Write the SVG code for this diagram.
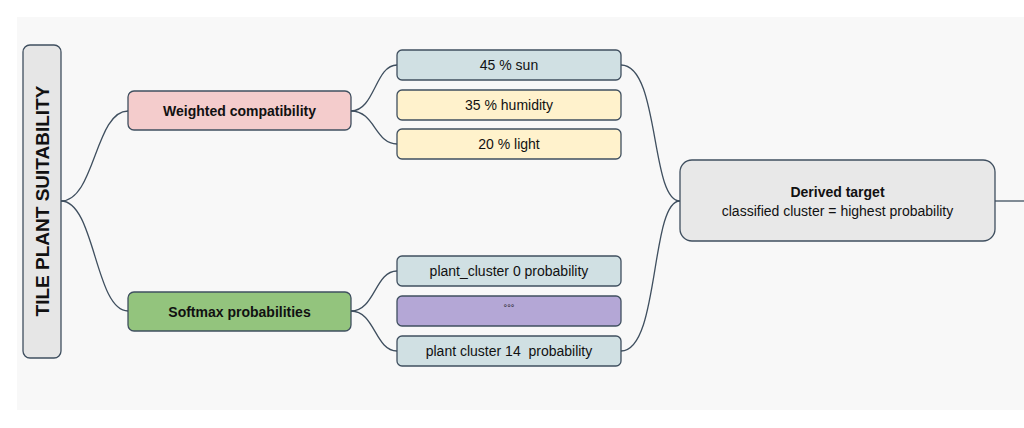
<svg xmlns="http://www.w3.org/2000/svg" width="1024" height="428" viewBox="0 0 1024 428">
<style>
.n{stroke:#3f4f5f;stroke-width:1.3}
.c{fill:none;stroke:#3f4f5f;stroke-width:1.3}
text{font-family:"Liberation Sans",Arial,sans-serif;fill:#111;text-anchor:middle}
.t{font-size:14px}
.b{font-size:14px;font-weight:bold}
</style>
<rect width="1024" height="428" fill="#fff"/>
<rect x="17" y="17" width="1007" height="393" fill="#f8f8f8"/>
<g id="connectors">
<path class="c" d="M61,201 C95,201 95,111 128,111"/>
<path class="c" d="M61,201 C95,201 95,311 128,311"/>
<path class="c" d="M351,111 C375,111 375,65 397,65"/>
<path class="c" d="M351,111 C375,111 375,144 397,144"/>
<path class="c" d="M351,311 C375,311 375,271 397,271"/>
<path class="c" d="M351,311 C375,311 375,351 397,351"/>
<path class="c" d="M621,65 C660,65 650,201 680,201"/>
<path class="c" d="M621,351 C660,351 650,201 680,201"/>
<path class="c" d="M995,201 L1024,201"/>
</g>
<g id="root"><rect class="n" x="23" y="45" width="38" height="313" rx="7" fill="#e6e6e6"/>
<text class="b" style="font-size:19px" transform="translate(49,201) rotate(-90)">TILE PLANT SUITABILITY</text></g>
<g id="weighted"><rect class="n" x="128" y="91" width="223" height="39" rx="6" fill="#f4cccc"/><text class="b" x="239.5" y="116">Weighted compatibility</text></g>
<g id="softmax"><rect class="n" x="128" y="292" width="223" height="39" rx="6" fill="#93c47d"/><text class="b" x="239.5" y="317">Softmax probabilities</text></g>
<g id="sun"><rect class="n" x="397" y="50" width="224" height="30" rx="5" fill="#d0e0e3"/><text class="t" x="509" y="70">45 % sun</text></g>
<g id="humidity"><rect class="n" x="397" y="90" width="224" height="30" rx="5" fill="#fff2cc"/><text class="t" x="509" y="110">35 % humidity</text></g>
<g id="light"><rect class="n" x="397" y="129" width="224" height="30" rx="5" fill="#fff2cc"/><text class="t" x="509" y="149">20 % light</text></g>
<g id="pc0"><rect class="n" x="397" y="256" width="224" height="30" rx="5" fill="#d0e0e3"/><text class="t" x="509" y="276">plant_cluster 0 probability</text></g>
<g id="dots"><rect class="n" x="397" y="296" width="224" height="30" rx="5" fill="#b4a7d6"/><text class="t" style="font-size:9px" x="509" y="311">°°°</text></g>
<g id="pc14"><rect class="n" x="397" y="336" width="224" height="30" rx="5" fill="#d0e0e3"/><text class="t" x="509" y="356" xml:space="preserve">plant cluster 14  probability</text></g>
<g id="derived"><rect class="n" x="680" y="160" width="315" height="81" rx="12" fill="#e8e8e8"/>
<text class="b" x="837.5" y="197">Derived target</text><text class="t" x="837.5" y="216">classified cluster = highest probability</text></g>
</svg>
